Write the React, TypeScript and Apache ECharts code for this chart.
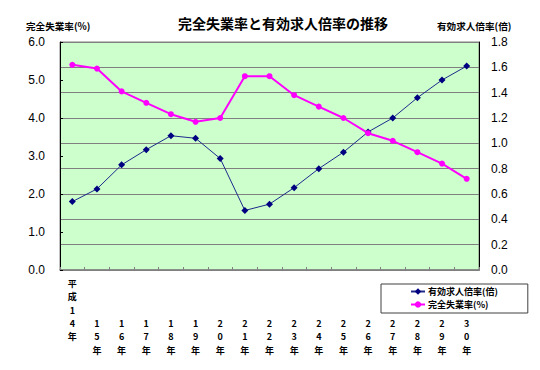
import React, { useEffect, useRef } from 'react';
import * as echarts from 'echarts';

const years = ['平成14年', '15年', '16年', '17年', '18年', '19年', '20年', '21年', '22年', '23年', '24年', '25年', '26年', '27年', '28年', '29年', '30年'];
const jobRatio = [0.54, 0.64, 0.83, 0.95, 1.06, 1.04, 0.88, 0.47, 0.52, 0.65, 0.8, 0.93, 1.09, 1.2, 1.36, 1.5, 1.61];
const unemployment = [5.4, 5.3, 4.7, 4.4, 4.1, 3.9, 4.0, 5.1, 5.1, 4.6, 4.3, 4.0, 3.6, 3.4, 3.1, 2.8, 2.4];
const leftAxis = { min: 0, max: 6, interval: 1 };
const rightAxis = { min: 0, max: 1.8, interval: 0.2 };
const titleText = '完全失業率と有効求人倍率の推移';
const leftName = '完全失業率(%)';
const rightName = '有効求人倍率(倍)';
const jobName = '有効求人倍率(倍)';
const unempName = '完全失業率(%)';

const JP = '"Noto Sans CJK JP", sans-serif';
const LAT = '"Liberation Sans", Arial, sans-serif';

export default function App() {
  const ref = useRef<HTMLDivElement>(null);
  useEffect(() => {
    if (!ref.current) return;
    const chart = echarts.init(ref.current, null, { renderer: 'svg' });
    chart.setOption({
      animation: false,
      backgroundColor: '#ffffff',
      title: {
        text: titleText,
        left: 278,
        textAlign: 'center',
        top: 11,
        textStyle: { fontFamily: JP, fontSize: 14, fontWeight: 'bold', color: '#000' },
      },
      graphic: [
        {
          type: 'text',
          left: 26,
          top: 21,
          style: { text: leftName, fontFamily: JP, fontSize: 9.6, fontWeight: 'bold', fill: '#000' },
        },
        {
          type: 'text',
          left: 437,
          top: 21,
          style: { text: rightName, fontFamily: JP, fontSize: 9.6, fontWeight: 'bold', fill: '#000' },
        },
      ],
      legend: {
        orient: 'vertical',
        left: 381,
        top: 284,
        padding: [3, 30, 4, 29],
        itemGap: 4,
        itemWidth: 14,
        itemHeight: 8,
        borderColor: '#404040',
        borderWidth: 1,
        backgroundColor: '#fff',
        textStyle: { fontFamily: JP, fontSize: 9, fontWeight: 'bold', color: '#000', padding: [0, 0, 0, -2] },
        data: [jobName, unempName],
      },
      grid: {
        left: 60,
        right: 61,
        top: 42,
        bottom: 100,
        show: true,
        backgroundColor: '#CCFFCC',
        borderColor: '#808080',
        borderWidth: 1,
        containLabel: false,
      },
      xAxis: {
        type: 'category',
        data: years,
        boundaryGap: true,
        axisLine: { show: true, lineStyle: { color: '#808080', width: 1.5 } },
        axisTick: { show: true, inside: true, length: 3, lineStyle: { color: '#808080' } },
        splitLine: { show: false },
        axisLabel: {
          interval: 0,
          margin: 7,
          fontFamily: JP,
          fontSize: 9,
          fontWeight: 'bold',
          color: '#000',
          lineHeight: 13.3,
          formatter: (v: string, i: number) => {
            const chars = Array.from(v).join('\n');
            return i === 0 ? chars : '\n\n\n' + chars;
          },
        },
      },
      yAxis: [
        {
          type: 'value',
          position: 'left',
          min: leftAxis.min,
          max: leftAxis.max,
          interval: leftAxis.interval,
          axisLine: { show: true, lineStyle: { color: '#000', width: 1 } },
          axisTick: { show: true, inside: true, length: 3, lineStyle: { color: '#000' } },
          splitLine: { show: false },
          axisLabel: {
            margin: 15,
            fontFamily: LAT,
            fontSize: 12,
            color: '#000',
            formatter: (v: number) => v.toFixed(1),
          },
        },
        {
          type: 'value',
          position: 'right',
          min: rightAxis.min,
          max: rightAxis.max,
          interval: rightAxis.interval,
          alignTicks: false,
          axisLine: { show: true, lineStyle: { color: '#000', width: 1 } },
          axisTick: { show: false },
          splitLine: { show: true, lineStyle: { color: '#808080', width: 1 } },
          axisLabel: {
            margin: 12,
            fontFamily: LAT,
            fontSize: 12,
            color: '#000',
            formatter: (v: number) => v.toFixed(1),
          },
        },
      ],
      series: [
        {
          name: jobName,
          type: 'line',
          yAxisIndex: 1,
          data: jobRatio,
          symbol: 'diamond',
          symbolSize: 7,
          showAllSymbol: true,
          lineStyle: { color: '#1F2A8C', width: 1 },
          itemStyle: { color: '#000080' },
          z: 3,
        },
        {
          name: unempName,
          type: 'line',
          yAxisIndex: 0,
          data: unemployment,
          symbol: 'circle',
          symbolSize: 6,
          showAllSymbol: true,
          lineStyle: { color: '#FF00FF', width: 2 },
          itemStyle: { color: '#FF00FF' },
          z: 4,
        },
      ],
    });
    return () => chart.dispose();
  }, []);
  return <div ref={ref} style={{ position: 'fixed', left: 0, top: 0, width: 540, height: 370 }} />;
}
